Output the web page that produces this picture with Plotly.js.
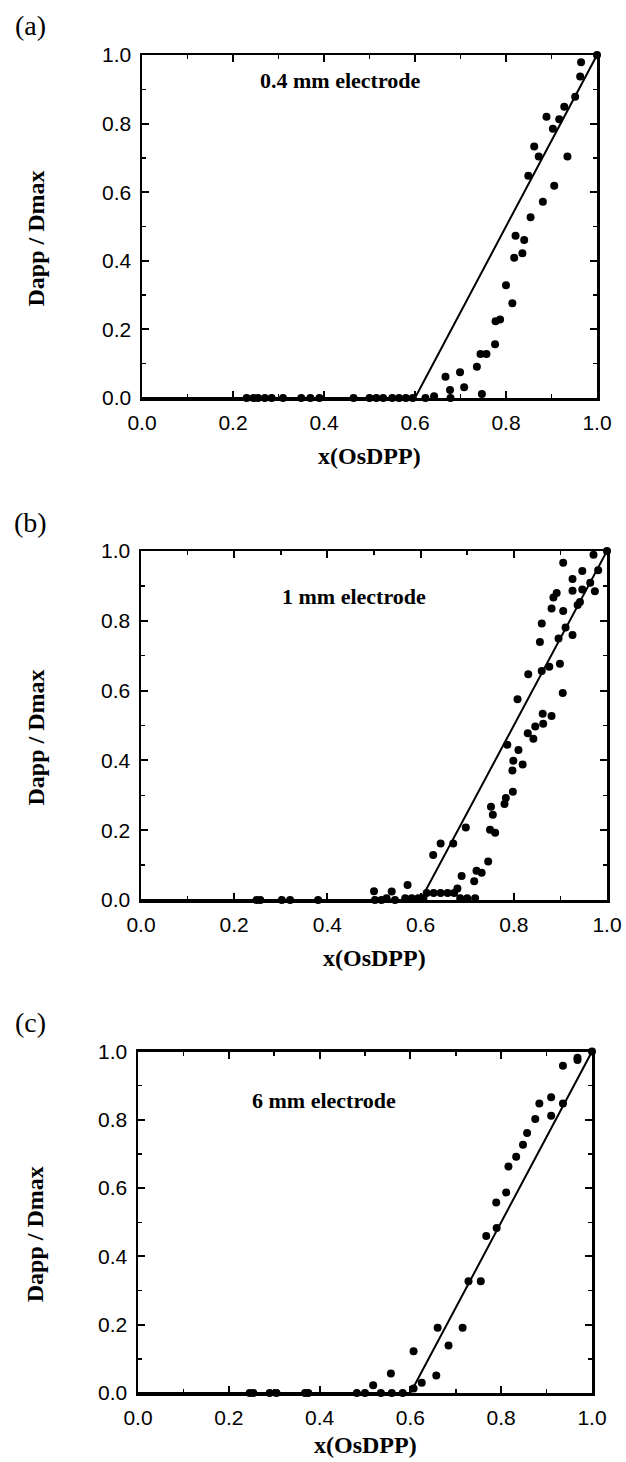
<!DOCTYPE html>
<html>
<head>
<meta charset="utf-8">
<script src="https://cdn.plot.ly/plotly-3.0.1.min.js"></script>
<style>html,body{margin:0;padding:0;background:#fff;}#chart{width:626px;height:1462px;}</style>
</head>
<body>
<div id="chart"></div>
<script>
// ---- data ----
const panelLabels = ["(a)", "(b)", "(c)"];
const panelTexts = ["0.4 mm electrode", "1 mm electrode", "6 mm electrode"];
const xTitle = "x(OsDPP)";
const yTitle = "Dapp / Dmax";
const tickVals = [0, 0.2, 0.4, 0.6, 0.8, 1.0];
const tickText = ["0.0", "0.2", "0.4", "0.6", "0.8", "1.0"];

const fitX = [0, 0.6, 1.0];
const fitY = [0, 0, 1.0];

const aX = [0.23, 0.245, 0.255, 0.27, 0.285, 0.31, 0.35, 0.37, 0.39, 0.465, 0.50, 0.515, 0.53, 0.55, 0.565, 0.58, 0.595, 0.623,
  0.642, 0.678, 0.677, 0.667, 0.699, 0.708, 0.736, 0.747, 0.744, 0.757, 0.776, 0.777, 0.787, 0.814, 0.800, 0.818, 0.836, 0.821,
  0.840, 0.854, 0.881, 0.906, 0.849, 0.872, 0.935, 0.862, 0.903, 0.889, 0.917, 0.928, 0.952, 0.963, 0.965, 1.0];
const aY = [0, 0, 0, 0, 0, 0, 0, 0, 0, 0, 0, 0, 0, 0, 0, 0, 0, 0,
  0.005, 0.0, 0.023, 0.062, 0.075, 0.031, 0.091, 0.012, 0.128, 0.128, 0.157, 0.224, 0.229, 0.276, 0.329, 0.409, 0.422, 0.473,
  0.461, 0.527, 0.572, 0.619, 0.648, 0.704, 0.704, 0.733, 0.785, 0.820, 0.813, 0.849, 0.878, 0.937, 0.979, 1.0];

const bX = [0.248, 0.256, 0.302, 0.32, 0.38, 0.50, 0.502, 0.516, 0.527, 0.538, 0.545, 0.572, 0.567, 0.581, 0.595, 0.606,
  0.613, 0.628, 0.643, 0.658, 0.672, 0.679, 0.685, 0.700, 0.717, 0.715, 0.688, 0.720, 0.731, 0.745, 0.627, 0.643, 0.670,
  0.697, 0.749, 0.760, 0.755, 0.751, 0.780, 0.783, 0.798, 0.797, 0.819, 0.799, 0.810, 0.786, 0.842, 0.830, 0.846, 0.863,
  0.881, 0.862, 0.808, 0.905, 0.831, 0.860, 0.876, 0.899, 0.856, 0.896, 0.926, 0.911, 0.860, 0.906, 0.881, 0.937, 0.942,
  0.885, 0.892, 0.974, 0.947, 0.926, 0.964, 0.926, 0.981, 0.947, 0.906, 0.971, 1.0];
const bY = [0, 0, 0, 0, 0, 0.025, 0, 0, 0.005, 0.024, 0, 0.043, 0.005, 0.005, 0.005, 0.005,
  0.02, 0.02, 0.02, 0.02, 0.02, 0.033, 0.005, 0.005, 0.005, 0.054, 0.069, 0.084, 0.078, 0.110, 0.129, 0.162, 0.162,
  0.208, 0.201, 0.193, 0.244, 0.267, 0.275, 0.292, 0.310, 0.371, 0.388, 0.399, 0.430, 0.445, 0.462, 0.478, 0.497, 0.505,
  0.527, 0.534, 0.575, 0.593, 0.647, 0.656, 0.668, 0.677, 0.739, 0.749, 0.759, 0.781, 0.792, 0.828, 0.835, 0.845, 0.854,
  0.867, 0.880, 0.885, 0.890, 0.886, 0.909, 0.920, 0.945, 0.943, 0.966, 0.989, 1.0];

const cX = [0.246, 0.254, 0.290, 0.305, 0.368, 0.375, 0.482, 0.500, 0.535, 0.559, 0.583, 0.518, 0.557, 0.607, 0.625,
  0.657, 0.607, 0.660, 0.684, 0.715, 0.728, 0.755, 0.767, 0.790, 0.789, 0.811, 0.816, 0.833, 0.848, 0.857, 0.875,
  0.910, 0.884, 0.936, 0.910, 0.936, 0.968, 0.968, 1.0];
const cY = [0, 0, 0, 0, 0, 0, 0, 0, 0, 0, 0, 0.023, 0.057, 0.013, 0.03,
  0.051, 0.122, 0.191, 0.139, 0.191, 0.327, 0.327, 0.460, 0.483, 0.558, 0.587, 0.663, 0.692, 0.727, 0.761, 0.802,
  0.812, 0.848, 0.848, 0.866, 0.958, 0.975, 0.982, 1.0];

const seriesX = [aX, bX, cX];
const seriesY = [aY, bY, cY];

// ---- layout geometry (pixels) ----
const W = 626, H = 1462;
const boxes = [
  {l: 142, r: 597, t: 55, b: 398},
  {l: 141, r: 607, t: 551, b: 900},
  {l: 138, r: 592, t: 1051.5, b: 1393}
];
const px = v => v / W;
const py = v => 1 - v / H;

const traces = [];
const layout = {
  width: W, height: H,
  margin: {l: 0, r: 0, t: 0, b: 0},
  paper_bgcolor: "#fff", plot_bgcolor: "#fff",
  showlegend: false,
  annotations: []
};

const serif = "Liberation Serif, Times New Roman, serif";
const sans = "Liberation Sans, Arial, Helvetica, sans-serif";
const textY = [80, 596, 1100];
const textL = [258, 280, 250];
const xTitleOffset = [58, 58, 52];

boxes.forEach((bx, i) => {
  const n = i === 0 ? "" : String(i + 1);
  const xa = "x" + n, ya = "y" + n;
  traces.push({
    x: fitX, y: fitY, xaxis: xa, yaxis: ya, type: "scatter", mode: "lines",
    line: {color: "#000", width: 2}, cliponaxis: false, hoverinfo: "skip"
  });
  traces.push({
    x: seriesX[i], y: seriesY[i], xaxis: xa, yaxis: ya, type: "scatter", mode: "markers",
    marker: {color: "#000", size: 8}, cliponaxis: false
  });
  const common = {
    range: [0, 1], showgrid: false, zeroline: false,
    showline: true, linecolor: "#000", linewidth: 2.5, mirror: "ticks",
    ticks: "inside", ticklen: 7, tickwidth: 2, tickcolor: "#000",
    tickmode: "array", tickvals: tickVals, ticktext: tickText,
    tickfont: {family: sans, size: 21, color: "#000"},
    minor: {ticks: "inside", ticklen: 4, tickwidth: 1.5, tickcolor: "#000", dtick: 0.1, tick0: 0, showgrid: false},
    fixedrange: true
  };
  layout["xaxis" + n] = Object.assign({}, common, {
    domain: [px(bx.l), px(bx.r)], anchor: ya, ticklabelstandoff: 4
  });
  layout["yaxis" + n] = Object.assign({}, common, {
    domain: [py(bx.b), py(bx.t)], anchor: xa, ticklabelstandoff: 4
  });
  // panel letter
  layout.annotations.push({
    xref: "paper", yref: "paper", x: px(30), y: py(bx.t - 29),
    text: panelLabels[i], showarrow: false, xanchor: "center", yanchor: "middle",
    font: {family: serif, size: 28, color: "#000"}
  });
  // in-plot label
  layout.annotations.push({
    xref: "paper", yref: "paper", x: px(textL[i]), y: py(textY[i]),
    text: "<b>" + panelTexts[i] + "</b>", showarrow: false, xanchor: "left", yanchor: "middle",
    font: {family: serif, size: 22, color: "#000"}
  });
  // x title
  layout.annotations.push({
    xref: "paper", yref: "paper", x: px((bx.l + bx.r) / 2), y: py(bx.b + xTitleOffset[i]),
    text: "<b>" + xTitle + "</b>", showarrow: false, xanchor: "center", yanchor: "middle",
    font: {family: serif, size: 24, color: "#000"}
  });
  // y title
  layout.annotations.push({
    xref: "paper", yref: "paper", x: px(35), y: py((bx.t + bx.b) / 2 + 12),
    text: "<b>" + yTitle + "</b>", showarrow: false, xanchor: "center", yanchor: "middle",
    textangle: -90, font: {family: serif, size: 24, color: "#000"}
  });
});

Plotly.newPlot("chart", traces, layout, {staticPlot: true, displayModeBar: false});
</script>
</body>
</html>
